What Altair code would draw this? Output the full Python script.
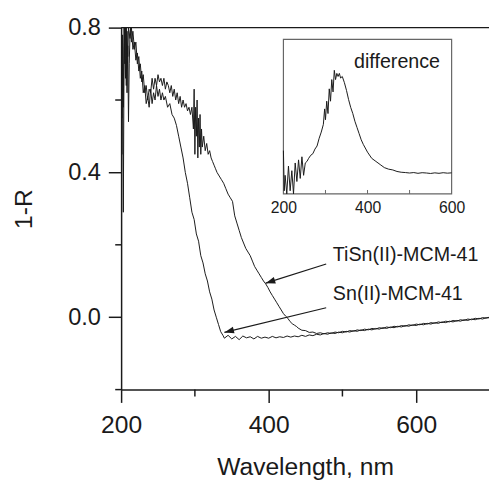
import altair as alt
import pandas as pd

# ---------------- data ----------------
sn_x = [200, 201, 202, 203, 204, 205, 206, 207, 208, 209, 210, 211, 212, 213, 214, 216, 218, 220,
        222, 224, 226, 228, 230, 232, 234, 236, 238, 240, 242, 244, 246, 248, 250, 252, 254, 256,
        258, 260, 263, 266, 269, 272, 275, 278, 281, 284, 287, 290, 293, 296, 299, 302, 305, 308,
        311, 314, 317, 320, 323, 326, 329, 332, 335, 338,
        340, 345, 350, 355, 360, 365, 370, 375, 380, 385, 390, 395, 400, 405, 410, 415, 420, 425,
        430, 435, 440, 445, 450, 455, 460, 465, 470, 475, 480, 485, 490, 495, 500, 505, 510, 515,
        520, 525, 530, 535, 540, 545, 550, 555, 560, 565, 570, 575, 580, 585, 590, 595, 600, 605,
        610, 615, 620, 625, 630, 635, 640, 645, 650, 655, 660, 665, 670, 675, 680, 685, 690, 695, 700]
sn_y = [0.78, 0.55, 0.70, 0.29, 0.74, 0.80, 0.66, 0.80, 0.62, 0.75, 0.54, 0.70, 0.78, 0.80, 0.76, 0.79, 0.74, 0.76,
        0.70, 0.72, 0.66, 0.68, 0.62, 0.64, 0.59, 0.61, 0.58, 0.63, 0.59, 0.62, 0.60, 0.64, 0.61, 0.63, 0.60, 0.62,
        0.60, 0.61, 0.58, 0.59, 0.56, 0.55, 0.53, 0.50, 0.47, 0.44, 0.40, 0.37, 0.33, 0.29, 0.27, 0.23, 0.21, 0.17,
        0.15, 0.12, 0.10, 0.07, 0.05, 0.02, 0.00, -0.02, -0.04, -0.05,
        -0.058, -0.050, -0.060, -0.053, -0.062, -0.052, -0.057, -0.054, -0.060, -0.053, -0.058, -0.055, -0.058, -0.053, -0.057, -0.054, -0.056, -0.052,
        -0.055, -0.052, -0.054, -0.050, -0.053, -0.049, -0.051, -0.047, -0.049, -0.045, -0.047, -0.043, -0.045, -0.041, -0.043, -0.039, -0.041, -0.037,
        -0.039, -0.035, -0.037, -0.033, -0.035, -0.031, -0.033, -0.029, -0.031, -0.027, -0.029, -0.025, -0.027, -0.023, -0.025, -0.021, -0.023, -0.019,
        -0.021, -0.017, -0.019, -0.015, -0.017, -0.013, -0.015, -0.011, -0.013, -0.009, -0.011, -0.007, -0.009, -0.005, -0.007, -0.003, -0.005, -0.001, -0.002]

ti_x = [200, 201, 202, 203, 204, 205, 206, 207, 208, 209, 210, 212, 214, 216, 218, 220, 222, 224, 226, 228,
        230, 232, 234, 236, 238, 240, 242, 244, 246, 248, 250, 252, 254, 256, 258, 260, 262, 264, 266, 268,
        270, 272, 274, 276, 278, 280, 282, 284, 286, 288, 290, 292, 294, 296, 298, 299, 300, 301, 302, 303,
        304, 305, 306, 307, 308, 309, 310, 312, 314, 316, 318, 320, 322, 324, 326, 328, 330, 333, 336, 339,
        342, 345, 348, 351, 354, 357, 360, 363, 366, 369, 372, 375, 378, 381, 384, 387, 390, 393, 396, 399,
        402, 405, 408, 411, 414, 417, 420, 423, 426, 429, 432, 435, 438,
        440, 445, 450, 455, 460, 465, 470, 475, 480, 485, 490, 495, 500, 505, 510, 515, 520, 525, 530, 535,
        540, 545, 550, 555, 560, 565, 570, 575, 580, 585, 590, 595, 600, 605, 610, 615, 620, 625, 630, 635,
        640, 645, 650, 655, 660, 665, 670, 675, 680, 685, 690, 695, 700]
ti_y = [0.66, 0.45, 0.78, 0.58, 0.80, 0.70, 0.80, 0.64, 0.79, 0.72, 0.80, 0.77, 0.80, 0.74, 0.76, 0.71, 0.73, 0.68, 0.70, 0.65,
        0.67, 0.62, 0.64, 0.60, 0.63, 0.62, 0.66, 0.63, 0.66, 0.64, 0.67, 0.65, 0.66, 0.64, 0.66, 0.63, 0.65, 0.64, 0.62, 0.64,
        0.61, 0.63, 0.60, 0.62, 0.59, 0.61, 0.58, 0.60, 0.58, 0.59, 0.57, 0.58, 0.56, 0.58, 0.52, 0.63, 0.45, 0.58, 0.50, 0.60,
        0.44, 0.55, 0.47, 0.56, 0.45, 0.52, 0.47, 0.50, 0.46, 0.48, 0.45, 0.46, 0.44, 0.43, 0.42, 0.41, 0.40, 0.39, 0.38, 0.37,
        0.355, 0.34, 0.33, 0.32, 0.28, 0.26, 0.24, 0.22, 0.205, 0.19, 0.18, 0.17, 0.155, 0.14, 0.13, 0.12, 0.11, 0.10, 0.092, 0.082,
        0.07, 0.06, 0.05, 0.04, 0.03, 0.02, 0.01, 0.003, -0.003, -0.012, -0.018, -0.022, -0.026,
        -0.030, -0.036, -0.037, -0.042, -0.041, -0.045, -0.043, -0.046, -0.043, -0.045, -0.041, -0.043, -0.039, -0.041, -0.037, -0.039, -0.035, -0.037, -0.033, -0.035,
        -0.031, -0.033, -0.029, -0.031, -0.027, -0.029, -0.025, -0.027, -0.023, -0.025, -0.021, -0.023, -0.019, -0.021, -0.017, -0.019, -0.015, -0.017, -0.013, -0.015,
        -0.011, -0.013, -0.009, -0.011, -0.007, -0.009, -0.005, -0.007, -0.003, -0.005, -0.001, -0.003, 0.001]

diff_x = [200, 202, 204, 208, 212, 216, 220, 224, 228, 232, 236, 240, 244, 248, 252, 256, 260, 265, 270, 275,
          280, 285, 290, 295, 298, 300, 303, 306, 309, 312, 315, 318, 321, 324, 327, 330, 333, 336, 340, 345,
          350, 355, 360, 365, 370, 375, 380, 385, 390, 400, 410, 420, 430, 440, 450, 460, 470, 480, 490, 500,
          510, 520, 530, 540, 550, 560, 570, 580, 590, 600]
diff_y = [0.28, 0.02, 0.12, 0.0, 0.18, 0.02, 0.15, 0.0, 0.20, 0.08, 0.22, 0.10, 0.24, 0.12, 0.20, 0.21, 0.23, 0.25, 0.26, 0.29,
          0.31, 0.36, 0.40, 0.45, 0.55, 0.48, 0.60, 0.52, 0.68, 0.60, 0.74, 0.66, 0.80, 0.74, 0.78, 0.76, 0.78, 0.75, 0.76, 0.72,
          0.67, 0.61, 0.56, 0.52, 0.47, 0.43, 0.39, 0.35, 0.32, 0.27, 0.23, 0.21, 0.19, 0.17, 0.16, 0.155, 0.145, 0.14, 0.138, 0.135,
          0.138, 0.133, 0.137, 0.135, 0.132, 0.136, 0.133, 0.137, 0.134, 0.136]

major_x = [200, 400, 600]
minor_x = [300, 500]
major_y = [0.0, 0.4, 0.8]
minor_y = [-0.2, 0.2, 0.6]
inset_ticks = [300, 400, 500]

labels = ["TiSn(II)-MCM-41", "Sn(II)-MCM-41"]
label_x = [487, 487]
label_y = [0.171, 0.063]
arrow_from_x = [478, 478]
arrow_from_y = [0.147, 0.026]
arrow_to_x = [396, 340]
arrow_to_y = [0.094, -0.042]
arrow_angle = [342, 346]

# ---------------- chart ----------------
FONT = "Liberation Sans"
INK = "#1a1a1a"
W, H = 374, 368

xs = alt.Scale(domain=[200, 698.7], nice=False, zero=False)
ys = alt.Scale(domain=[-0.2, 0.8], nice=False, zero=False)

x_axis = alt.Axis(values=major_x, tickSize=13, tickWidth=1.5, tickColor=INK,
                  domainColor=INK, domainWidth=1.5, grid=False, labelFlush=False,
                  labelFontSize=25, labelFont=FONT, labelColor=INK, labelPadding=11,
                  title="Wavelength, nm", titleFont=FONT, titleFontSize=25,
                  titleFontWeight="normal", titleColor=INK,
                  titleBaseline="alphabetic", titleY=86)
y_axis = alt.Axis(values=major_y, format=".1f", tickSize=13, tickWidth=1.5, tickColor=INK,
                  domainColor=INK, domainWidth=1.5, grid=False, labelFlush=False,
                  labelFontSize=24, labelFont=FONT, labelColor=INK, labelPadding=8,
                  title="1-R", titleFont=FONT, titleFontSize=25,
                  titleFontWeight="normal", titleColor=INK,
                  titleBaseline="alphabetic", titleX=-91)

def X(field):
    return alt.X(field, type="quantitative", scale=xs, axis=x_axis)

def Y(field):
    return alt.Y(field, type="quantitative", scale=ys, axis=y_axis)

curves = pd.concat([
    pd.DataFrame({"wl": sn_x, "r": sn_y, "s": "Sn"}),
    pd.DataFrame({"wl": ti_x, "r": ti_y, "s": "TiSn"}),
])

lines = alt.Chart(curves).mark_line(color=INK, strokeWidth=1.0, clip=True).encode(
    x=X("wl"), y=Y("r"), detail="s:N")

top_line = alt.Chart(pd.DataFrame({"v": [0.8]})).mark_rule(color=INK, strokeWidth=1.5).encode(
    y=Y("v"), x=alt.value(0), x2=alt.value(W))

ymin = alt.Chart(pd.DataFrame({"v": minor_y})).mark_rule(color=INK, strokeWidth=1.5).encode(
    y=Y("v"), x=alt.value(-6), x2=alt.value(0))
xmin = alt.Chart(pd.DataFrame({"v": minor_x})).mark_rule(color=INK, strokeWidth=1.5).encode(
    x=X("v"), y=alt.value(H), y2=alt.value(H + 7))

ann = pd.DataFrame({"t": labels, "lx": label_x, "ly": label_y,
                    "fx": arrow_from_x, "fy": arrow_from_y,
                    "hx": arrow_to_x, "hy": arrow_to_y, "ang": arrow_angle})

texts = alt.Chart(ann).mark_text(align="left", baseline="middle", font=FONT,
                                 fontSize=20, color=INK).encode(
    x=X("lx"), y=Y("ly"), text="t:N")
arrows = alt.Chart(ann).mark_rule(color=INK, strokeWidth=1.2).encode(
    x=X("fx"), y=Y("fy"), x2="hx:Q", y2="hy:Q")
heads = alt.Chart(ann).mark_point(shape="M0,0L1,-0.35L1,0.35Z", filled=True, opacity=1,
                                  size=380, color=INK).encode(
    x=X("hx"), y=Y("hy"), angle=alt.Angle("ang:Q", scale=None))

main = alt.layer(lines, top_line, ymin, xmin, arrows, heads, texts)

# inset
ixs = alt.Scale(domain=[200, 600], range=[165, 336], nice=False, zero=False)
iys = alt.Scale(domain=[0, 1], range=[169, 12], nice=False, zero=False)
ix_axis = alt.Axis(orient="bottom", offset=-199, values=major_x, domain=False, ticks=False,
                   grid=False, labelFlush=False, labelFontSize=16, labelFont=FONT,
                   labelColor=INK, labelPadding=6, title=None)

def IX(field):
    return alt.X(field, type="quantitative", scale=ixs, axis=ix_axis)

def IY(field):
    return alt.Y(field, type="quantitative", scale=iys, axis=None)

inset_line = alt.Chart(pd.DataFrame({"wl": diff_x, "d": diff_y})).mark_line(
    color=INK, strokeWidth=1.0, clip=False).encode(x=IX("wl"), y=IY("d"))
inset_box = alt.Chart(pd.DataFrame({"a": [200], "b": [600], "c": [0], "e": [1]})).mark_rect(
    fillOpacity=0, stroke="#666666", strokeWidth=1.2).encode(
    x=IX("a"), x2="b:Q", y=IY("c"), y2="e:Q")
inset_tk = alt.Chart(pd.DataFrame({"v": inset_ticks, "y0": [0] * 3, "y1": [0.025] * 3})).mark_rule(
    color="#666666", strokeWidth=1).encode(x=IX("v"), y=IY("y0"), y2="y1:Q")
inset_txt = alt.Chart(pd.DataFrame({"t": ["difference"], "x": [368], "y": [0.85]})).mark_text(
    align="left", baseline="middle", font=FONT, fontSize=20, color=INK).encode(
    x=IX("x"), y=IY("y"), text="t:N")

inset = alt.layer(inset_box, inset_tk, inset_line, inset_txt)

chart = alt.layer(main, inset).resolve_scale(x="independent", y="independent").properties(
    width=W, height=H,
    autosize=alt.AutoSizeParams(type="none"),
    padding={"left": 115, "top": 16, "right": 0, "bottom": 91},
    background="white",
).configure_view(stroke=None)

chart.save("out.html", embed_options={"renderer": "svg", "actions": False})
